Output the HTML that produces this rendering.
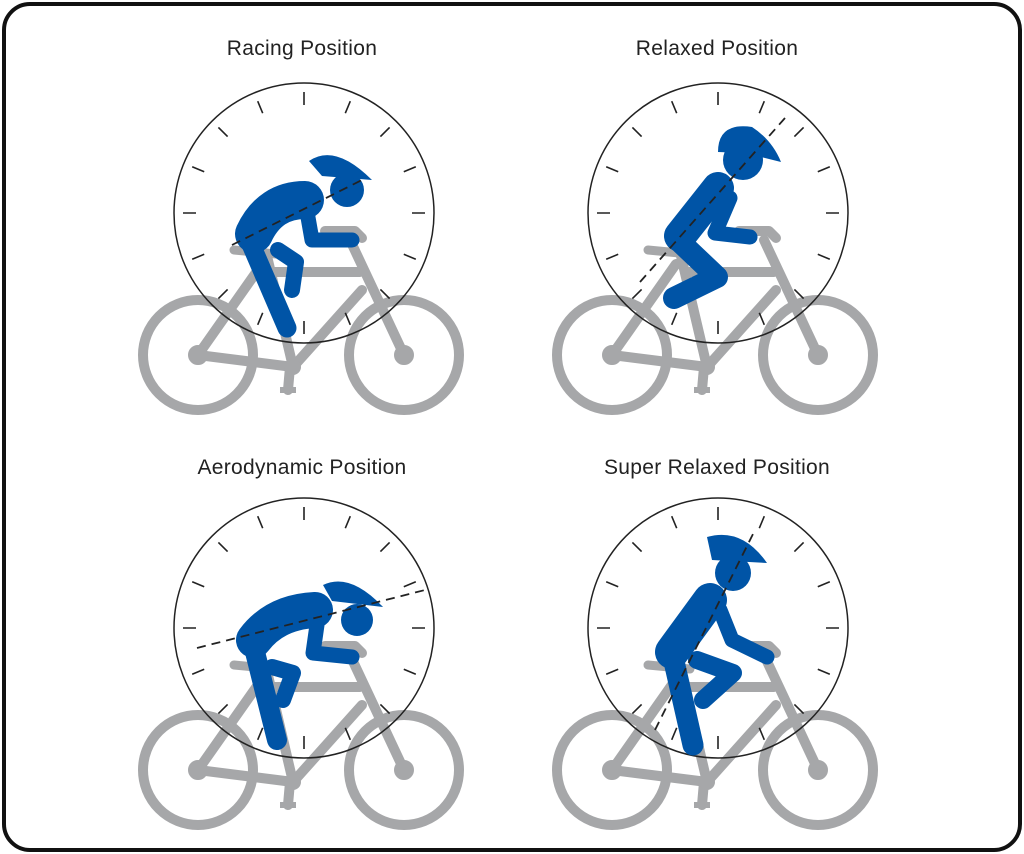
<!DOCTYPE html>
<html><head><meta charset="utf-8"><style>
html,body{margin:0;padding:0;background:#fff;}
svg{display:block;}
text{font-family:"Liberation Sans",sans-serif;font-size:21px;fill:#222;letter-spacing:0.3px;}
</style></head><body>
<svg width="1024" height="854" viewBox="0 0 1024 854">
<defs>
<g id="bike" fill="none" stroke="#a6a7a9" stroke-width="10" stroke-linecap="round" stroke-linejoin="round">
  <circle cx="198" cy="355" r="55"/>
  <circle cx="404" cy="355" r="55"/>
  <path d="M198 355 L293 367 L362 290 M198 355 L262 264 M293 367 L267 256 M275 272 L360 272 M350 240 L404 355"/>
  <path d="M325 231 L355 231 L362 238"/>
  <path d="M234 250 L276 254" stroke-width="9"/>
  <path d="M290 367 L288 390"/>
  <rect x="280" y="387" width="16" height="6" fill="#a6a7a9" stroke="none"/>
  <circle cx="293" cy="367" r="8" fill="#a6a7a9" stroke="none"/>
  <circle cx="198" cy="355" r="5" fill="#a6a7a9"/>
  <circle cx="404" cy="355" r="5" fill="#a6a7a9"/>
</g>
<g id="dial" fill="none" stroke="#222">
  <circle cx="0" cy="0" r="130" stroke-width="1.5"/>
  <path stroke-width="1.6" d="
  M0 -108 L0 -121 M41.3 -99.8 L46.3 -111.8 M76.4 -76.4 L85.6 -85.6 M99.8 -41.3 L111.8 -46.3
  M108 0 L121 0 M99.8 41.3 L111.8 46.3 M76.4 76.4 L85.6 85.6 M41.3 99.8 L46.3 111.8
  M0 108 L0 121 M-41.3 99.8 L-46.3 111.8 M-76.4 76.4 L-85.6 85.6 M-99.8 41.3 L-111.8 46.3
  M-108 0 L-121 0 M-99.8 -41.3 L-111.8 -46.3 M-76.4 -76.4 L-85.6 -85.6 M-41.3 -99.8 L-46.3 -111.8"/>
</g>
</defs>

<rect x="4" y="4" width="1016" height="846" rx="26" fill="#fff" stroke="#111" stroke-width="4"/>

<text x="302" y="55" text-anchor="middle">Racing Position</text>
<text x="717" y="55" text-anchor="middle">Relaxed Position</text>
<text x="302" y="474" text-anchor="middle">Aerodynamic Position</text>
<text x="717" y="474" text-anchor="middle">Super Relaxed Position</text>

<!-- Panel 1 -->
<use href="#bike"/>
<use href="#dial" x="304" y="213"/>
<g fill="none" stroke="#0054a6" stroke-linecap="round" stroke-linejoin="round">
  <path d="M278 250 L296 262 L292 290" stroke-width="16"/>
  <path d="M254 234 Q270 200 305 200" stroke-width="38"/>
  <path d="M250 242 L287 328" stroke-width="19"/>
  <path d="M306 206 L312 240 L352 240" stroke-width="15"/>
</g>
<circle cx="347" cy="190" r="17" fill="#0054a6"/>
<path d="M309 161 Q335 143 372 180 L322 176 Z" fill="#0054a6"/>
<path d="M232 245 L362 180" stroke="#222" stroke-width="1.8" stroke-dasharray="9 6"/>

<!-- Panel 2 -->
<use href="#bike" x="414"/>
<use href="#dial" x="718" y="213"/>
<g fill="none" stroke="#0054a6" stroke-linecap="round" stroke-linejoin="round">
  <path d="M680 236 L718 188" stroke-width="32"/>
  <path d="M678 240 L717 277 L674 298" stroke-width="22"/>
  <path d="M730 198 L715 233 L750 237" stroke-width="15"/>
</g>
<circle cx="743" cy="160" r="20" fill="#0054a6"/>
<path d="M718 152 Q718 122 752 127 Q772 140 781 162 L745 153 Z" fill="#0054a6"/>
<path d="M640 282 L785 118" stroke="#222" stroke-width="1.8" stroke-dasharray="9 6"/>

<!-- Panel 3 -->
<use href="#bike" y="415"/>
<use href="#dial" x="304" y="628"/>
<g fill="none" stroke="#0054a6" stroke-linecap="round" stroke-linejoin="round">
  <path d="M272 667 L293 673 L283 700" stroke-width="16"/>
  <path d="M254 640 Q275 612 315 610" stroke-width="36"/>
  <path d="M254 648 L277 740" stroke-width="20"/>
  <path d="M318 618 L313 653 L352 657" stroke-width="15"/>
</g>
<circle cx="357" cy="620" r="16" fill="#0054a6"/>
<path d="M323 585 Q350 572 383 607 L332 601 Z" fill="#0054a6"/>
<path d="M197 648 L425 590" stroke="#222" stroke-width="1.8" stroke-dasharray="9 6"/>

<!-- Panel 4 -->
<use href="#bike" x="414" y="415"/>
<use href="#dial" x="718" y="628"/>
<g fill="none" stroke="#0054a6" stroke-linecap="round" stroke-linejoin="round">
  <path d="M697 660 L733 673 L703 700" stroke-width="18"/>
  <path d="M710 600 L672 652" stroke-width="34"/>
  <path d="M673 657 L693 745" stroke-width="21"/>
  <path d="M720 610 L732 640 L767 657" stroke-width="15"/>
</g>
<circle cx="733" cy="573" r="18" fill="#0054a6"/>
<path d="M707 537 Q742 527 767 563 L712 560 Z" fill="#0054a6"/>
<path d="M655 730 L755 530" stroke="#222" stroke-width="1.8" stroke-dasharray="9 6"/>
</svg>
</body></html>
